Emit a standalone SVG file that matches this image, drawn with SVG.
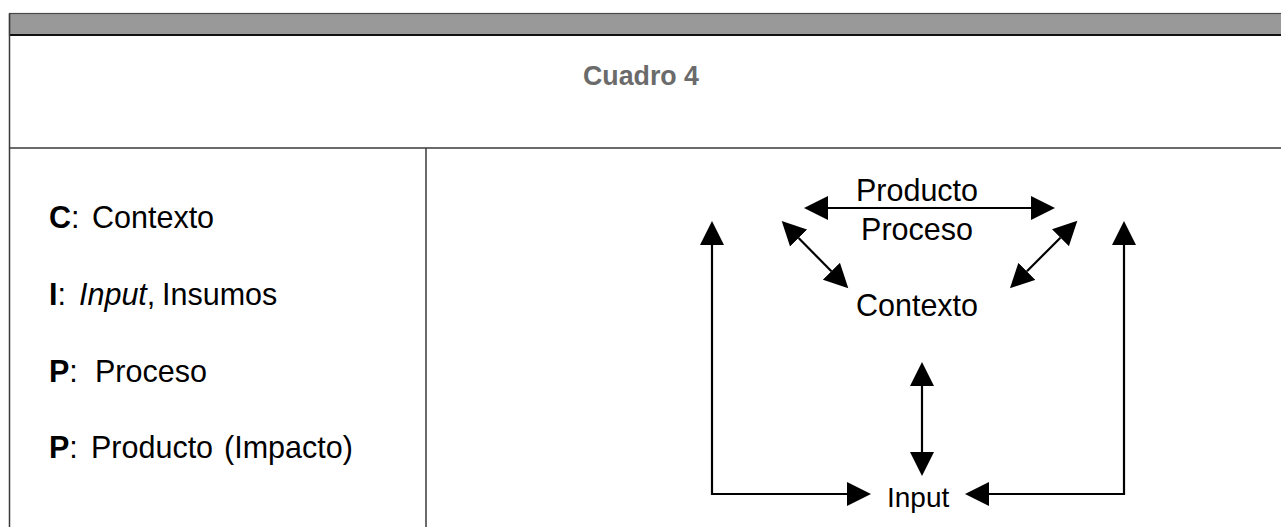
<svg xmlns="http://www.w3.org/2000/svg" width="1281" height="527" viewBox="0 0 1281 527">
<style>
.t{font-family:"Liberation Sans",Arial,sans-serif;font-size:30.5px;fill:#000}
.b{font-weight:bold}
.i{font-style:italic}
.title{font-family:"Liberation Sans",Arial,sans-serif;font-size:28px;font-weight:bold;fill:#6b6b6b}
.frame{stroke:#3a3a3a;stroke-width:1.5;fill:none}
.conn{stroke:#000;stroke-width:2.2;fill:none}
</style>
<defs>
<marker id="ah" markerUnits="userSpaceOnUse" markerWidth="25" markerHeight="25" refX="0" refY="12" orient="auto-start-reverse" viewBox="0 0 25 24">
<path d="M0,0 L24,12 L0,24 Z" fill="#000"/>
</marker>
</defs>
<rect width="1281" height="527" fill="#fff"/>
<g id="frame">
<rect x="9.5" y="13.5" width="1275" height="21.5" fill="#999999" stroke="#4a4a4a" stroke-width="1.2"/>
<line x1="9.5" y1="35" x2="1281" y2="35" stroke="#111" stroke-width="1.8"/>
<line class="frame" x1="9.5" y1="13.5" x2="9.5" y2="527"/>
<line class="frame" x1="9.5" y1="148" x2="1281" y2="148"/>
<line class="frame" x1="426" y1="148" x2="426" y2="527" stroke="#1a1a1a"/>
</g>
<g id="title">
<text class="title" x="583" y="85" textLength="116" lengthAdjust="spacingAndGlyphs">Cuadro 4</text>
</g>
<g id="legend">
<text class="t" y="228"><tspan class="b" x="49">C</tspan><tspan>:</tspan><tspan x="92">Contexto</tspan></text>
<text class="t" y="305"><tspan class="b" x="49">I</tspan><tspan>:</tspan><tspan class="i" x="79">Input</tspan><tspan>,</tspan><tspan x="162">Insumos</tspan></text>
<text class="t" y="382"><tspan class="b" x="49">P</tspan><tspan>:</tspan><tspan x="95">Proceso</tspan></text>
<text class="t" y="458"><tspan class="b" x="49">P</tspan><tspan>:</tspan><tspan x="91">Producto</tspan><tspan x="224">(Impacto)</tspan></text>
</g>
<g id="connectors">
<path class="conn" d="M712,245 L712,494 L847,494" marker-start="url(#ah)" marker-end="url(#ah)"/>
<path class="conn" d="M989,494 L1124,494 L1124,245" marker-start="url(#ah)" marker-end="url(#ah)"/>
<path class="conn" d="M922,386 L922,452" marker-start="url(#ah)" marker-end="url(#ah)"/>
<path class="conn" d="M828,208 L1031,208" marker-start="url(#ah)" marker-end="url(#ah)"/>
<path class="conn" d="M798.6,238.1 L831.4,271.2" marker-start="url(#ah)" marker-end="url(#ah)"/>
<path class="conn" d="M1060.4,237.7 L1026.9,271.3" marker-start="url(#ah)" marker-end="url(#ah)"/>
</g>
<g id="node-producto"><text class="t" x="917" y="201" text-anchor="middle">Producto</text></g>
<g id="node-proceso"><text class="t" x="917" y="240" text-anchor="middle">Proceso</text></g>
<g id="node-contexto"><text class="t" x="917" y="316" text-anchor="middle">Contexto</text></g>
<g id="node-input"><text class="t" x="887" y="507" style="font-size:28px">Input</text></g>
</svg>
